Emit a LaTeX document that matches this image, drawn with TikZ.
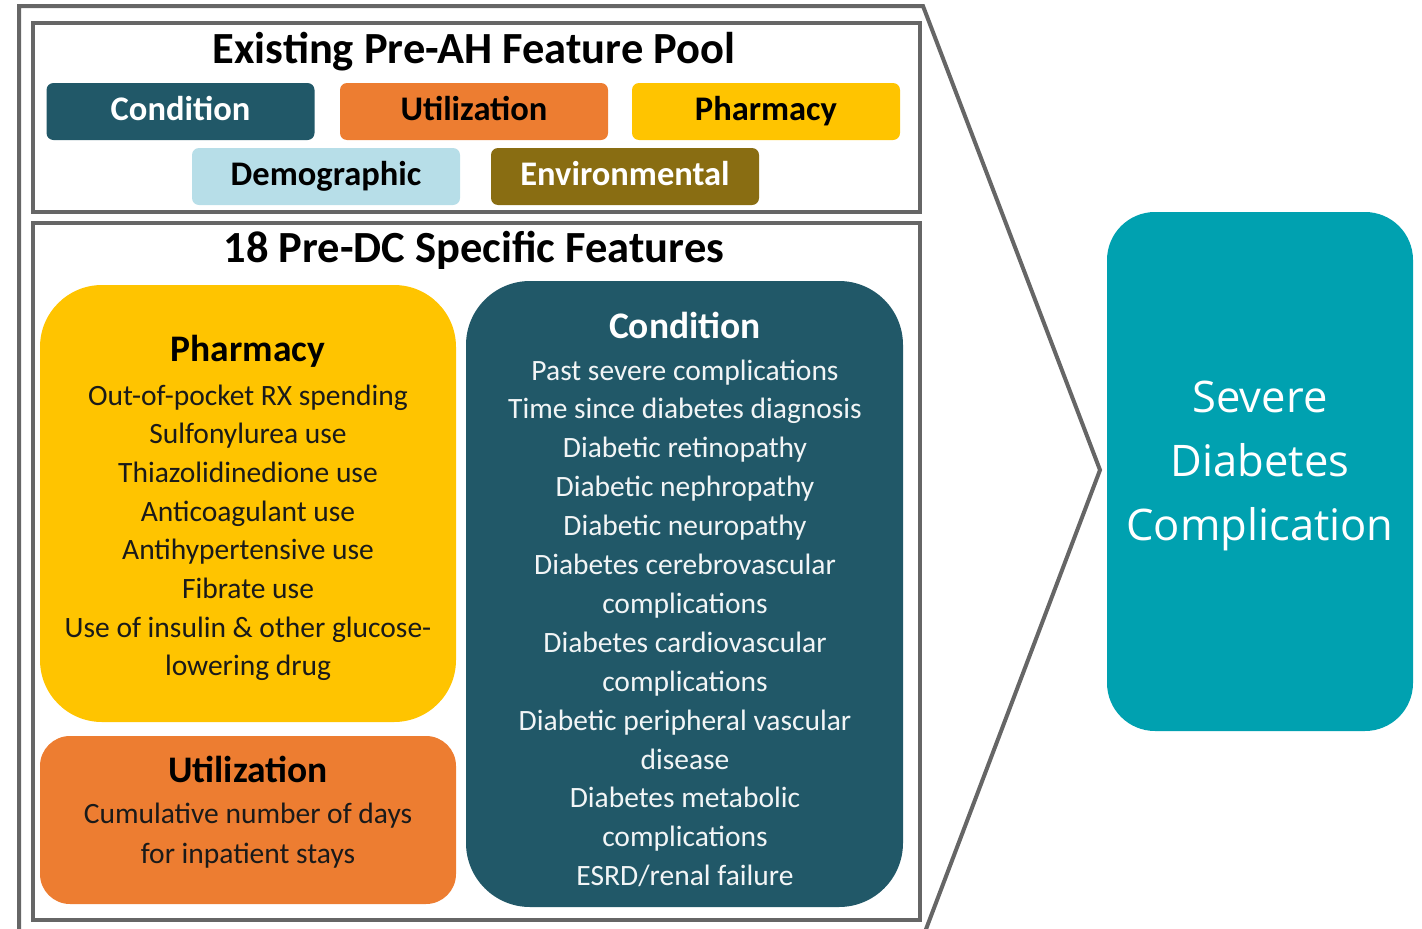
\documentclass[tikz,border=0pt]{standalone}
\usepackage{fontspec}
\setmainfont{Carlito}
\newfontfamily\sevfont{Open Sans}
\definecolor{condc}{HTML}{215868}
\definecolor{utilc}{HTML}{ED7D31}
\definecolor{pharc}{HTML}{FFC400}
\definecolor{democ}{HTML}{B7DEE8}
\definecolor{envc}{HTML}{896D12}
\definecolor{sevc}{HTML}{00A1B0}
\definecolor{linec}{HTML}{666666}
\definecolor{bodyc}{HTML}{1A1A1A}
\tikzset{
  outline/.style={draw=linec, line width=4pt, line join=miter},
  panel/.style={draw=linec, line width=4pt, anchor=north west, inner sep=0pt},
  chip/.style={rounded corners=7pt, minimum width=268pt, minimum height=57pt, inner sep=0pt,
    font=\fontsize{34.5}{40}\selectfont\bfseries, text height=22pt, text depth=5pt},
  bigtitle/.style={font=\fontsize{44.5}{50}\selectfont\bfseries, anchor=base, inner sep=0pt},
  head/.style={font=\fontsize{37.5}{44}\selectfont\bfseries, anchor=base, inner sep=0pt},
  body/.style={font=\fontsize{29.5}{36}\selectfont, anchor=base, inner sep=0pt},
  sev/.style={font=\sevfont\fontsize{43.5}{52}\selectfont, anchor=base, inner sep=0pt, text=white},
}
\begin{document}
\begin{tikzpicture}[x=1pt,y=-1pt]
\useasboundingbox (0,0) rectangle (1422,929);
\clip (0,0) rectangle (1422,929);

% outer pentagon outline
\coordinate (obl) at (19,945);
\coordinate (otl) at (19,6);
\coordinate (otr) at (923,6);
\coordinate (otip) at (1100,470);
\coordinate (obr) at (920,945);
\draw[outline] (obl) -- (otl) -- (otr) -- (otip) -- (obr);

% panels
\node[panel, minimum width=887pt, minimum height=189pt] (pool) at (31,21) {};
\node[panel, minimum width=887pt, minimum height=697pt] (spec) at (31,221) {};

% top panel
\node[bigtitle] (pooltitle) at (474,63) {Existing Pre-AH Feature Pool};
\node[chip, fill=condc, text=white] (ccond) at (180.5,111.5) {Condition};
\node[chip, fill=utilc, text=black] (cutil) at (474,111.5) {Utilization};
\node[chip, fill=pharc, text=black] (cphar) at (766,111.5) {Pharmacy};
\node[chip, fill=democ, text=black] (cdemo) at (326,176.5) {Demographic};
\node[chip, fill=envc, text=white] (cenv) at (625,176.5) {Environmental};

% second panel
\node[bigtitle] (spectitle) at (474,262) {18 Pre-DC Specific Features};

\fill[pharc, rounded corners=62pt] (40,285) rectangle (456,722);
\fill[utilc, rounded corners=30pt] (40,736) rectangle (456,904);
\fill[condc, rounded corners=64pt] (466,281) rectangle (903,907);

% pharmacy
\node[head, text=black] (phead) at (248,361) {Pharmacy};
\foreach \t [count=\i from 0] in {Out-of-pocket RX spending, Sulfonylurea use, Thiazolidinedione use, Anticoagulant use, Antihypertensive use, Fibrate use, Use of insulin \& other glucose-, lowering drug}
  \node[body, text=bodyc] (pl\i) at (248,{405+38.7*\i}) {\t};

% utilization
\node[head, text=black] (uhead) at (248,782) {Utilization};
\node[body, text=bodyc] (ul0) at (248,823) {Cumulative number of days};
\node[body, text=bodyc] (ul1) at (248,863) {for inpatient stays};

% condition
\node[head, text=white] (chead) at (685,338) {Condition};
\foreach \t [count=\i from 0] in {Past severe complications, Time since diabetes diagnosis, Diabetic retinopathy, Diabetic nephropathy, Diabetic neuropathy, Diabetes cerebrovascular, complications, Diabetes cardiovascular, complications, Diabetic peripheral vascular, disease, Diabetes metabolic, complications, ESRD/renal failure}
  \node[body, text=white!94!condc] (cl\i) at (685,{380+38.9*\i}) {\t};

% outcome
\node[fill=sevc, rounded corners=48pt, minimum width=306pt, minimum height=519pt, inner sep=0pt] (sevbox) at (1260,471.5) {};
\node[sev] (s1) at (1260,412) {Severe};
\node[sev] (s2) at (1260,476) {Diabetes};
\node[sev] (s3) at (1260,540) {Complication};
\end{tikzpicture}
\end{document}
